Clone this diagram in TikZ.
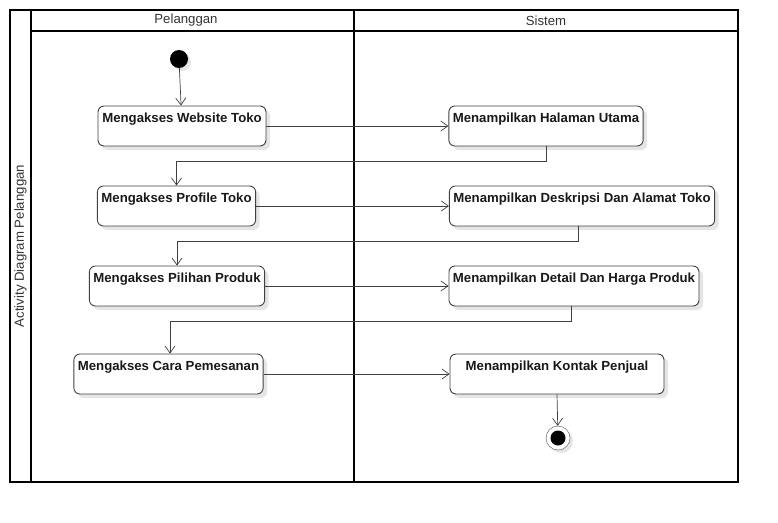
\documentclass[tikz,border=0pt]{standalone}
\usepackage{fontspec}
\setmainfont{Liberation Sans}
\usetikzlibrary{arrows.meta}
\usetikzlibrary{shadows}
\tikzset{
act/.style={
  align=center,
  draw=black!75,
  line width=0.9pt,
  fill=white,
  rounded corners=6pt,
  font=\bfseries\fontsize{13.2}{15}\selectfont,
  text=black!90,
  text height=12pt,
  text depth=20pt,
  inner ysep=4pt,
  inner xsep=4pt,
  drop shadow={shadow xshift=4pt, shadow yshift=-4pt, fill=black!10, opacity=1}
  }
}
\tikzset{
lane/.style={
  font=\fontsize{13.2}{15}\selectfont,
  text=black!80
  }
}
\tikzstyle{flow} = [draw,black!75,line width=0.7pt,-{Straight Barb[length=7pt,width=10pt]}]
\tikzstyle{frame} = [draw,black,line width=1.6pt]
\tikzset{%
    boundingBox/.style={use as bounding box},
    }

\begin{document}
\begin{tikzpicture}[x=1pt, y=-1pt]
	\path[boundingBox] (0,0) rectangle (778,522);

	%swimlanes
	\draw[frame] (10,10) rectangle (738,482);
	\draw[frame] (31,10) -- (31,482);
	\draw[frame] (31,31) -- (738,31);
	\draw[frame] (354,10) -- (354,482);
	\node (hcust) at (186, 20.5) [lane] {Pelanggan};
	\node (hsys) at (546, 20.5) [lane] {Sistem};
	\node (htitle) at (20.5, 246) [lane, rotate=90] {Activity Diagram Pelanggan};

	%vertices
	\node (vstart) at (179, 59) [circle, fill=black, minimum size=18pt, inner sep=0pt, drop shadow={shadow xshift=3pt, shadow yshift=-3pt, fill=black!10, opacity=1}] {};

	\node (va0) at (182, 126) [act, minimum width=168pt] {Mengakses Website Toko};
	\node (vs0) at (546, 126) [act, minimum width=192pt] {Menampilkan Halaman Utama};

	\node (va1) at (176.5, 206) [act, minimum width=157pt] {Mengakses Profile Toko};
	\node (vs1) at (582, 206) [act, minimum width=264pt] {Menampilkan Deskripsi Dan Alamat Toko};

	\node (va2) at (177, 286) [act, minimum width=174pt] {Mengakses Pilihan Produk};
	\node (vs2) at (574, 286) [act, minimum width=248pt] {Menampilkan Detail Dan Harga Produk};

	\node (va3) at (168.5, 374) [act, minimum width=189pt] {Mengakses Cara Pemesanan};
	\node (vs3) at (557, 374) [act, minimum width=214pt] {Menampilkan Kontak Penjual};

	\node (vend) at (558, 438) [circle, draw=black!70, fill=white, minimum size=24pt, inner sep=0pt, drop shadow={shadow xshift=3pt, shadow yshift=-3pt, fill=black!10, opacity=1}, path picture={\fill[black] (path picture bounding box.center) circle (7.5pt);}] {};

	%edges
	\draw[flow] (vstart) -- (va0);
	\draw[flow] (va0) -- (vs0);
	\draw[flow] (vs0.south) -- ++(0,15) -| (va1);
	\draw[flow] (va1) -- (vs1);
	\draw[flow] ([xshift=-4pt]vs1.south) -- ++(0,15) -| (va2);
	\draw[flow] (va2) -- (vs2);
	\draw[flow] ([xshift=-3pt]vs2.south) -- ++(0,15) -| ([xshift=1.5pt]va3.north);
	\draw[flow] (va3) -- (vs3);
	\draw[flow] (vs3.south) -- (vend);
\end{tikzpicture}
\end{document}
